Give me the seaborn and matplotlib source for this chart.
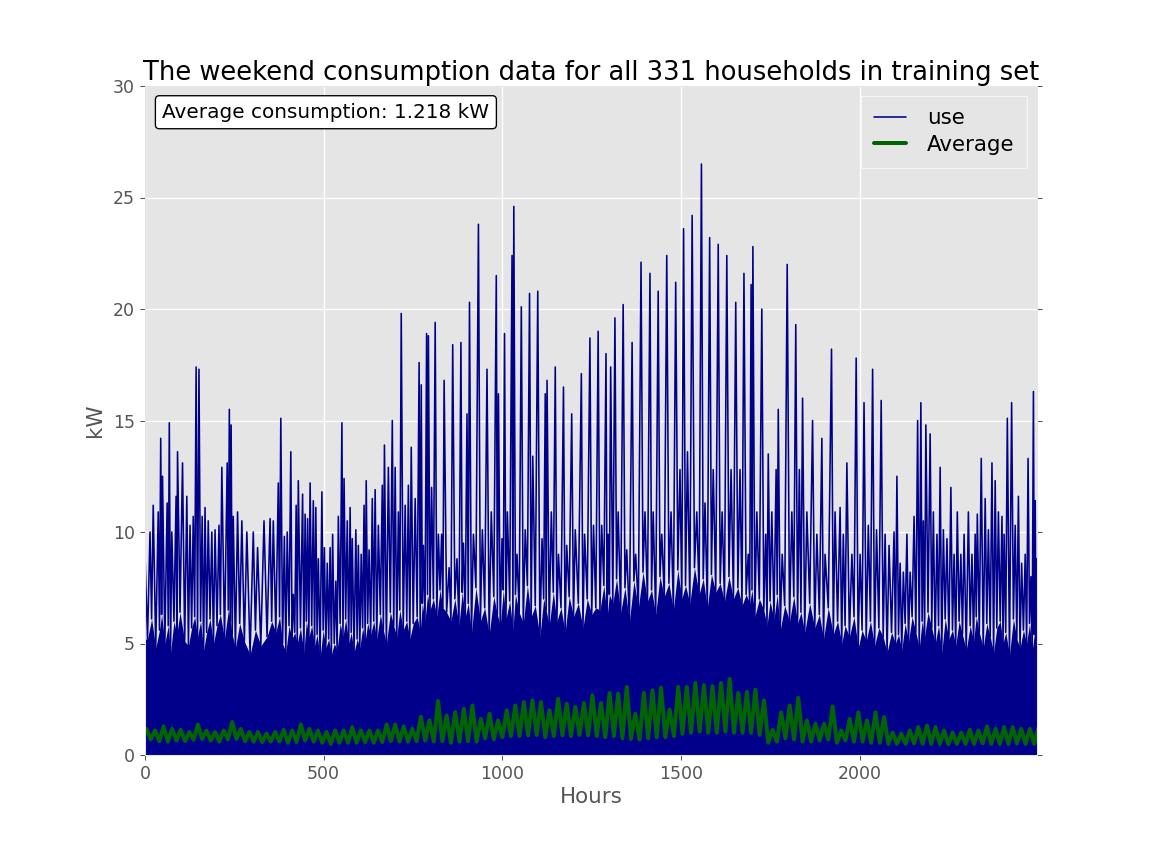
import numpy as np
import matplotlib
matplotlib.use("Agg")
import matplotlib.pyplot as plt
import seaborn as sns

# ---------------- data ----------------
# tallest spikes of the household "use" traces (hour, kW)
spike_hours = [
    0, 14, 23, 37, 44, 49, 62, 68, 75, 87, 91, 105, 117, 126, 135, 143, 151, 160, 168, 177,
    187, 196, 207, 215, 230, 236, 241, 247, 259, 271, 285, 303, 315, 333, 350, 359, 373, 380,
    390, 398, 408, 415,
    423, 429, 441, 448, 455, 462, 471, 478, 485, 495, 502, 510, 518, 525, 534, 541, 551, 557,
    566, 574, 580, 590, 597, 605, 613, 619, 627, 636, 644, 653, 664, 670, 681, 692, 700, 709,
    717, 728, 737, 745, 756, 767, 773, 779, 788, 793, 802, 812, 821, 830, 837,
    851, 861, 873, 884, 891, 901, 908, 919, 933, 944, 957, 969, 983, 989, 999, 1006, 1014,
    1027, 1032, 1041, 1053, 1064, 1076, 1085, 1099, 1111, 1120, 1125, 1137, 1148, 1157, 1171,
    1180, 1194, 1204, 1221, 1230, 1245, 1255,
    1268, 1278, 1290, 1296, 1303, 1315, 1324, 1338, 1348, 1363, 1373, 1388, 1399, 1413, 1422,
    1436, 1446, 1460, 1472, 1485, 1497, 1507, 1518, 1531, 1544, 1557, 1567, 1580, 1590, 1604,
    1615, 1628, 1640, 1653, 1665, 1676,
    1688, 1696, 1701, 1712, 1726, 1737, 1744, 1754, 1766, 1772, 1783, 1797, 1810, 1821, 1831,
    1840, 1852, 1868, 1880, 1894, 1903, 1921, 1931, 1945, 1954, 1964, 1978, 1990, 2001, 2012,
    2024, 2036, 2047, 2060, 2071, 2082, 2096,
    2104, 2113, 2122, 2132, 2141, 2152, 2162, 2171, 2178, 2185, 2197, 2206, 2216, 2225, 2234,
    2244, 2255, 2264, 2273, 2283, 2292, 2304, 2314, 2323, 2329, 2340, 2351, 2360, 2370, 2379,
    2388, 2398, 2404, 2413, 2425, 2435, 2444, 2453, 2463, 2471, 2479, 2486, 2491, 2495,
]
spike_kw = [
    9.0, 10.0, 11.2, 10.9, 14.2, 12.5, 11.3, 14.9, 10.0, 11.6, 13.6, 13.1, 11.6, 10.3, 10.7,
    17.4, 17.3, 10.7, 11.1, 10.5, 10.0, 10.1, 10.3, 12.9, 13.1, 15.5, 14.8, 10.7, 10.9, 10.5,
    10.0, 10.0, 9.3, 10.5, 10.6, 10.5, 12.2, 15.1, 9.8, 10.0, 13.6, 7.2,
    11.2, 12.3, 11.7, 10.8, 10.6, 12.2, 11.4, 11.1, 8.8, 11.8, 9.3, 8.6, 9.3, 9.9, 7.8, 10.7,
    14.9, 12.4, 10.5, 11.1, 9.7, 10.1, 9.4, 9.0, 11.2, 12.3, 9.2, 11.5, 11.9, 10.3, 12.1, 13.9,
    12.9, 15.0, 12.9, 10.9, 19.8, 11.2, 12.1, 13.8, 11.5, 17.6, 16.6, 9.4, 18.9, 18.8, 12.0,
    19.4, 9.9, 9.9, 16.8,
    8.4, 18.4, 8.8, 18.5, 9.5, 15.3, 20.3, 9.9, 23.8, 10.1, 17.3, 10.9, 21.5, 16.2, 9.7, 18.9,
    10.9, 22.4, 24.6, 9.0, 20.1, 10.1, 20.7, 13.4, 20.8, 9.7, 16.2, 16.8, 10.9, 17.4, 9.0,
    16.5, 9.4, 15.3, 10.1, 17.1, 9.9, 18.7, 10.3,
    19.0, 10.3, 18.0, 9.9, 17.4, 19.6, 10.9, 20.2, 9.2, 18.5, 9.0, 22.1, 10.9, 21.6, 10.9,
    20.8, 9.9, 22.4, 10.9, 21.2, 12.8, 23.6, 13.6, 24.2, 10.9, 26.5, 11.3, 23.2, 12.8, 22.9,
    10.9, 22.4, 12.8, 20.3, 12.8, 21.6,
    9.0, 21.1, 22.8, 10.9, 20.0, 9.9, 13.5, 10.9, 12.8, 15.5, 9.0, 22.0, 10.9, 19.3, 12.8,
    16.0, 10.9, 15.0, 9.9, 14.2, 9.0, 18.2, 10.9, 11.1, 9.9, 13.1, 9.0, 17.8, 9.0, 15.8,
    10.3, 17.3, 10.1, 15.9, 9.9, 9.4, 10.0,
    12.5, 8.6, 8.2, 9.9, 8.2, 10.7, 15.0, 15.8, 10.5, 14.8, 14.4, 10.9, 9.9, 12.9, 10.1,
    9.7, 12.0, 9.0, 10.9, 9.0, 9.9, 10.9, 9.0, 9.9, 10.8, 13.3, 11.5, 10.1, 13.1, 12.3,
    10.9, 10.7, 9.9, 15.1, 15.8, 10.3, 11.6, 8.6, 9.0, 13.3, 8.0, 16.3, 11.4, 8.8,
]
# low points between consecutive spikes = jagged top of the solid band (kW)
valley_kw = [
    5.2, 6.1, 4.8, 5.6, 6.3, 5.0, 5.8, 4.6, 6.0, 5.4, 6.4, 5.1, 4.9, 5.7, 6.2, 5.3, 6.0, 4.7,
    5.5, 6.1, 5.0, 5.8, 6.3, 5.2, 6.5, 6.0, 5.4, 4.8, 5.9, 5.1, 4.5, 5.6, 4.9, 5.3, 6.0, 5.5,
    6.2, 5.0, 4.6, 5.8, 5.2, 5.5,
    5.0, 5.7, 4.6, 6.0, 5.3, 5.8, 4.9, 5.4, 4.4, 5.6, 4.8, 5.2, 4.5, 5.0, 4.7, 5.9, 5.3, 6.1,
    5.0, 5.5, 4.6, 5.2, 4.8, 5.7, 5.1, 5.9, 5.4, 6.0, 5.2, 6.3, 5.6, 5.0, 6.4, 5.8, 5.3, 6.5,
    5.6, 6.0, 5.2, 5.9, 6.2, 5.5, 6.8, 6.0, 7.2, 6.5, 7.0, 6.2, 7.4, 6.6, 6.4,
    6.0, 7.0, 5.8, 7.3, 6.2, 6.8, 5.5, 7.5, 6.0, 6.6, 5.4, 7.1, 6.3, 5.8, 7.4, 6.1, 6.9, 5.6,
    7.2, 6.4, 5.9, 7.6, 6.2, 6.7, 5.3, 7.0, 6.5, 5.8, 7.3, 6.0, 6.6, 5.5, 7.1, 6.2, 6.8, 5.7,
    7.0, 6.3, 6.6,
    6.5, 7.6, 6.2, 7.2, 6.8, 7.9, 6.4, 7.5, 6.0, 7.8, 6.6, 8.2, 6.9, 7.4, 6.3, 8.0, 7.1, 7.7,
    6.5, 8.3, 7.0, 7.6, 6.8, 8.4, 7.2, 7.9, 6.6, 8.1, 7.3, 7.7, 6.9, 8.0, 7.0, 7.5, 6.7, 7.2,
    6.8, 7.4, 6.2, 7.0, 6.5, 5.8, 6.9, 6.1, 7.2, 5.6, 6.7, 6.0, 7.1, 5.9, 6.4, 5.5, 6.8, 5.7,
    6.3, 5.2, 6.6, 5.4, 6.0, 5.0, 5.8, 5.3, 6.2, 4.8, 5.6, 5.1, 6.0, 4.9, 5.7, 5.3, 4.6, 5.5,
    5.0,
    5.4, 4.7, 5.9, 5.1, 6.2, 5.5, 4.8, 6.0, 5.3, 6.4, 5.7, 5.0, 5.8, 4.6, 6.1, 5.2, 5.6, 4.9,
    6.0, 5.4, 4.7, 5.8, 5.1, 6.2, 5.5, 4.8, 5.9, 5.3, 4.6, 5.7, 6.0, 5.0, 5.5, 4.5, 6.1, 5.2,
    4.8, 5.6, 5.0, 5.9, 4.7, 5.4, 5.1,
]

# daily peaks / troughs of the average curve (peaks at hour 4 + 24k, troughs 12 h later)
avg_peak_kw = [
    1.17, 1.10, 1.28, 1.17, 1.13, 1.03, 1.37, 1.10, 1.03, 1.10, 1.48, 1.17, 1.03, 1.03, 0.96,
    1.03, 1.13, 1.10, 1.37, 1.17, 1.10, 1.03, 1.10, 1.10, 1.25, 1.10, 1.10, 1.10, 1.37, 1.37,
    1.28, 1.17, 1.71, 1.55, 2.42, 1.77,
    1.92, 2.07, 2.22, 1.62, 1.85, 1.55, 2.00, 2.22, 2.37, 2.45, 2.37, 2.00, 2.52, 2.30, 2.15,
    2.33, 2.67, 2.33, 2.78, 2.75, 3.05, 1.85, 2.78, 2.90, 3.02, 2.03, 3.05, 3.05, 3.23, 3.13,
    3.08, 3.23, 3.41, 2.78,
    2.83, 2.93, 2.45, 1.13, 1.91, 2.22, 2.56, 1.55, 1.40, 1.40, 2.18, 1.10, 1.62, 1.91, 1.55,
    1.91, 1.70, 1.00, 0.96, 1.10, 1.25, 1.32, 1.25, 1.10, 1.00, 1.00, 1.13, 1.10, 1.28, 1.17,
    1.25, 1.25, 1.17, 1.17, 1.22,
]
avg_trough_kw = [
    0.70, 0.62, 0.60, 0.65, 0.62, 0.68, 0.72, 0.65, 0.60, 0.70, 0.72, 0.62, 0.60, 0.58, 0.60,
    0.60, 0.55, 0.58, 0.65, 0.60, 0.55, 0.50, 0.55, 0.55, 0.55, 0.58, 0.55, 0.58, 0.62, 0.60,
    0.60, 0.62, 0.65, 0.60, 0.62, 0.55,
    0.60, 0.62, 0.60, 0.75, 0.70, 0.80, 0.85, 0.85, 0.88, 0.90, 0.80, 0.85, 0.88, 0.85, 0.90,
    0.88, 0.85, 0.80, 0.85, 0.75, 0.72, 0.70, 0.75, 0.80, 0.80, 0.85, 0.95, 1.00, 1.05, 1.00,
    1.00, 1.05, 1.00, 1.00,
    1.00, 0.90, 0.55, 0.60, 0.75, 0.70, 0.60, 0.60, 0.65, 0.70, 0.55, 0.65, 0.60, 0.60, 0.55,
    0.55, 0.50, 0.50, 0.50, 0.52, 0.50, 0.50, 0.50, 0.48, 0.50, 0.50, 0.50, 0.52, 0.50, 0.50,
    0.50, 0.52, 0.50, 0.50,
]
avg_value = 1.218
n_households = 331
x_ticks = [0, 500, 1000, 1500, 2000]
y_ticks = [0, 5, 10, 15, 20, 25, 30]
x_max = 2496

# ---------------- assemble series ----------------
n = min(len(spike_hours), len(spike_kw))
use_x, use_y = [], []
band_x, band_y = [0], [valley_kw[0]]
for i in range(n):
    use_x.append(spike_hours[i])
    use_y.append(spike_kw[i])
    if i < n - 1 and i < len(valley_kw):
        mid = (spike_hours[i] + spike_hours[i + 1]) / 2.0
        use_x.append(mid)
        use_y.append(valley_kw[i])
        band_x.append(mid)
        band_y.append(valley_kw[i])
band_x.append(x_max)
band_y.append(band_y[-1])

avg_x, avg_y = [], []
for k, p in enumerate(avg_peak_kw):
    avg_x.append(4 + 24 * k)
    avg_y.append(p)
    if k < len(avg_trough_kw):
        avg_x.append(16 + 24 * k)
        avg_y.append(avg_trough_kw[k])

# ---------------- style ----------------
sns.set_style("darkgrid", {
    "axes.facecolor": "#E5E5E5",
    "grid.color": "white",
    "axes.edgecolor": "#E5E5E5",
    "xtick.bottom": True, "ytick.left": True,
})
plt.rcParams["font.family"] = ["DejaVu Sans"]

fig = plt.figure(figsize=(12, 9), dpi=96)
ax = fig.add_axes([145 / 1152, 109 / 864, 892 / 1152, 669 / 864])

ax.fill_between(band_x, 0, band_y, color="darkblue", lw=0)
sns.lineplot(x=use_x, y=use_y, ax=ax, color="darkblue", lw=1.2, label="use",
             estimator=None, sort=False)
sns.lineplot(x=avg_x, y=avg_y, ax=ax, color="darkgreen", lw=3, label="Average",
             estimator=None, sort=False)

ax.set_xlim(0, x_max)
ax.set_ylim(0, 30)
ax.set_xticks(x_ticks)
ax.set_yticks(y_ticks)
ax.grid(True, color="white", lw=1)
ax.set_axisbelow(True)
ax.tick_params(axis="both", which="both", direction="out", length=4, color="#555555",
               labelsize=13, labelcolor="#555555", right=True, top=False)
ax.set_xlabel("Hours", fontsize=16, color="#555555", labelpad=3)
ax.set_ylabel("kW", fontsize=16, color="#555555", labelpad=6)
ax.set_title(f"The weekend consumption data for all {n_households} households in training set",
             fontsize=19.3, color="black", pad=3)

leg = ax.legend(loc="upper right", fontsize=16, frameon=True, fancybox=False,
                handlelength=1.5, handletextpad=1.0, borderaxespad=0.45,
                borderpad=0.6, labelspacing=0.3)
for line in leg.get_lines():
    pass
leg.get_frame().set_facecolor("#E5E5E5")
leg.get_frame().set_edgecolor("#F5F5F5")
leg.get_frame().set_alpha(1)
for t in leg.get_texts():
    t.set_color("black")

ax.text(0.0195, 0.975, f"Average consumption: {avg_value} kW", transform=ax.transAxes,
        fontsize=15, ha="left", va="top", color="black",
        bbox=dict(boxstyle="round,pad=0.35,rounding_size=0.2", facecolor="white",
                  edgecolor="black"))

fig.savefig("out.png", dpi=96)
